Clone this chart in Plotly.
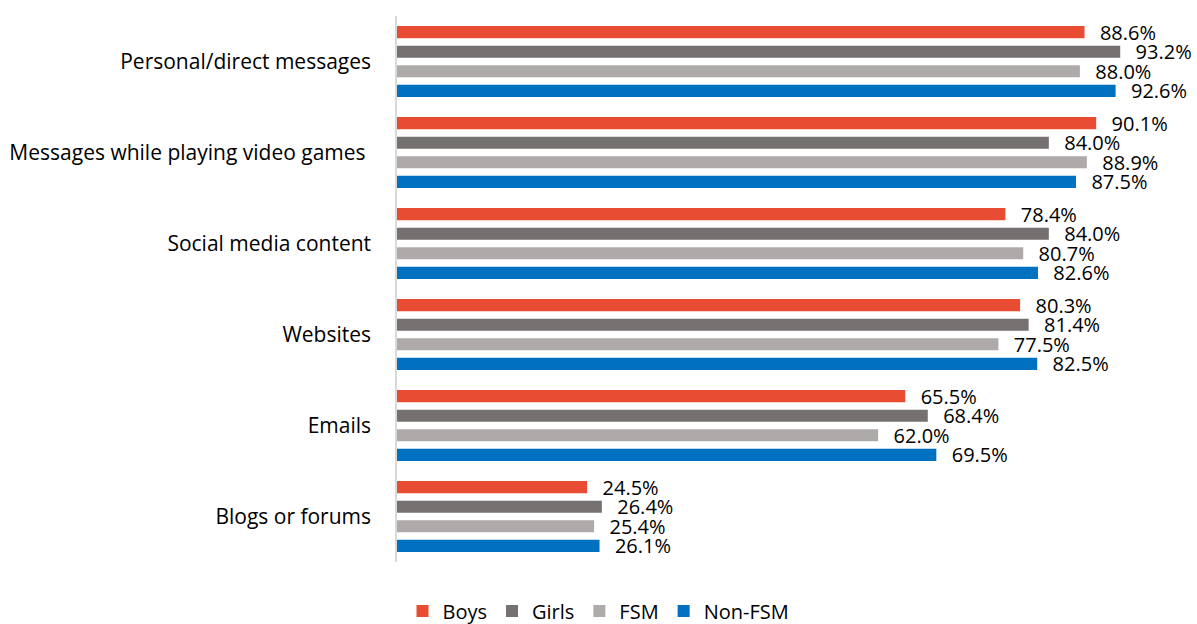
import plotly.graph_objects as go

categories = ["Personal/direct messages", "Messages while playing video games ",
              "Social media content", "Websites", "Emails", "Blogs or forums"]
boys = [88.6, 90.1, 78.4, 80.3, 65.5, 24.5]
girls = [93.2, 84.0, 84.0, 81.4, 68.4, 26.4]
fsm = [88.0, 88.9, 80.7, 77.5, 62.0, 25.4]
non_fsm = [92.6, 87.5, 82.6, 82.5, 69.5, 26.1]

series = [("Boys", boys, "#E84C33"), ("Girls", girls, "#767171"),
          ("FSM", fsm, "#AEAAAA"), ("Non-FSM", non_fsm, "#0070C0")]

FONT = "Open Sans"
fig = go.Figure()
for name, vals, col in series:
    fig.add_trace(go.Bar(
        y=categories, x=vals, name=name, orientation="h",
        marker=dict(color=col, line=dict(width=0)),
        text=vals, texttemplate="\u00a0\u00a0\u200a%{x:.1f}%",
        textposition="outside", cliponaxis=False, constraintext="none",
        textfont=dict(family=FONT, size=20, color="#000000"),
    ))

fig.update_layout(
    width=1197, height=624,
    barmode="group", bargap=0.14, bargroupgap=0.38,
    margin=dict(l=397, r=24, t=16, b=62, autoexpand=False),
    plot_bgcolor="white", paper_bgcolor="white",
    font=dict(family=FONT, size=20, color="#000000"),
    uniformtext=dict(minsize=20, mode="show"),
    xaxis=dict(range=[0, 100], showgrid=False, showticklabels=False,
               zeroline=False, showline=False, ticks="", automargin=False),
    yaxis=dict(autorange="reversed", showgrid=False, showline=True,
               linecolor="#D9D9D9", linewidth=1.5, ticks="", ticklabelstandoff=20,
               automargin=False,
               tickfont=dict(family=FONT, size=21, color="#000000")),
    legend=dict(orientation="h", xref="container", x=0.5, xanchor="center",
                yref="container", y=0.021, yanchor="middle",
                traceorder="normal", font=dict(family=FONT, size=20),
                itemwidth=30, tracegroupgap=0),
    showlegend=True,
)
fig.write_html("out.html", config={"displayModeBar": False},
               post_script="document.body.style.margin='0';")
